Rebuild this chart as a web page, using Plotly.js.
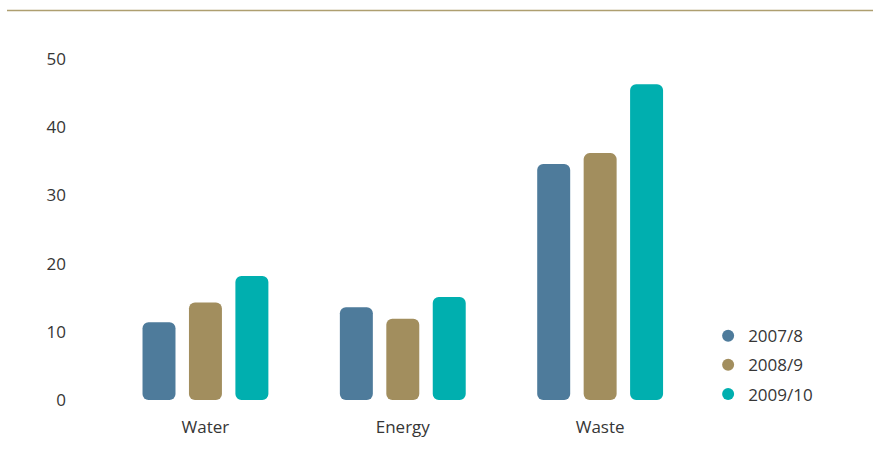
<!DOCTYPE html>
<html>
<head>
<meta charset="utf-8">
<script src="https://cdn.plot.ly/plotly-3.0.1.min.js"></script>
<style>
  html, body { margin: 0; padding: 0; background: #ffffff; }
  #chart { width: 874px; height: 459px; }
</style>
</head>
<body>
<div id="chart"></div>
<script>
// Categories and yearly values
const categories = ['Water', 'Energy', 'Waste'];
const seriesNames = ['2007/8', '2008/9', '2009/10'];
const values2007 = [11.4, 13.6, 34.6];
const values2008 = [14.3, 11.9, 36.2];
const values2009 = [18.2, 15.1, 46.3];
const yTicks = [0, 10, 20, 30, 40, 50];

const seriesValues = [values2007, values2008, values2009];
const colors = ['#4e7b9b', '#a28e5e', '#00afaf'];

const traces = [];
seriesValues.forEach(function (vals, i) {
  // An explicit base makes the corner rounding apply to both ends of the bar
  traces.push({
    type: 'bar', x: categories, y: vals, base: 0,
    name: seriesNames[i],
    marker: { color: colors[i], cornerradius: 6, line: { width: 0 } },
    showlegend: false, hoverinfo: 'skip'
  });
});

// Legend entries with round markers
seriesNames.forEach(function (name, i) {
  traces.push({
    type: 'scatter', mode: 'markers', x: [null], y: [null],
    name: name, legendgroup: name,
    marker: { color: colors[i], size: 12, symbol: 'circle' },
    showlegend: true, hoverinfo: 'skip'
  });
});

const font = { family: 'Open Sans, Noto Sans, sans-serif', size: 17, color: '#363636' };

const layout = {
  width: 874, height: 459,
  margin: { l: 75, r: 174, t: 59, b: 59, pad: 0 },
  paper_bgcolor: '#ffffff', plot_bgcolor: '#ffffff',
  font: font,
  barmode: 'group', bargap: 0.294, bargroupgap: 0.29,
  xaxis: {
    type: 'category', range: [-0.661, 2.506],
    showgrid: false, zeroline: false, showline: false,
    ticks: '', ticklabelstandoff: 15, tickfont: font, fixedrange: true
  },
  yaxis: {
    range: [0, 50], tickvals: yTicks, ticktext: yTicks.map(String),
    showgrid: false, zeroline: false, showline: false,
    ticks: '', ticklabelstandoff: 8, tickfont: font, fixedrange: true
  },
  legend: {
    x: 1.013, y: 0.24, xanchor: 'left', yanchor: 'top',
    font: font, tracegroupgap: 4, bgcolor: 'rgba(0,0,0,0)'
  },
  shapes: [{
    type: 'line', xref: 'paper', yref: 'paper',
    x0: -0.1088, x1: 1.2768, y0: 1.1422, y1: 1.1422,
    line: { color: '#ae9f70', width: 1.5 }
  }]
};

Plotly.newPlot('chart', traces, layout, { displayModeBar: false, staticPlot: true });
</script>
</body>
</html>
